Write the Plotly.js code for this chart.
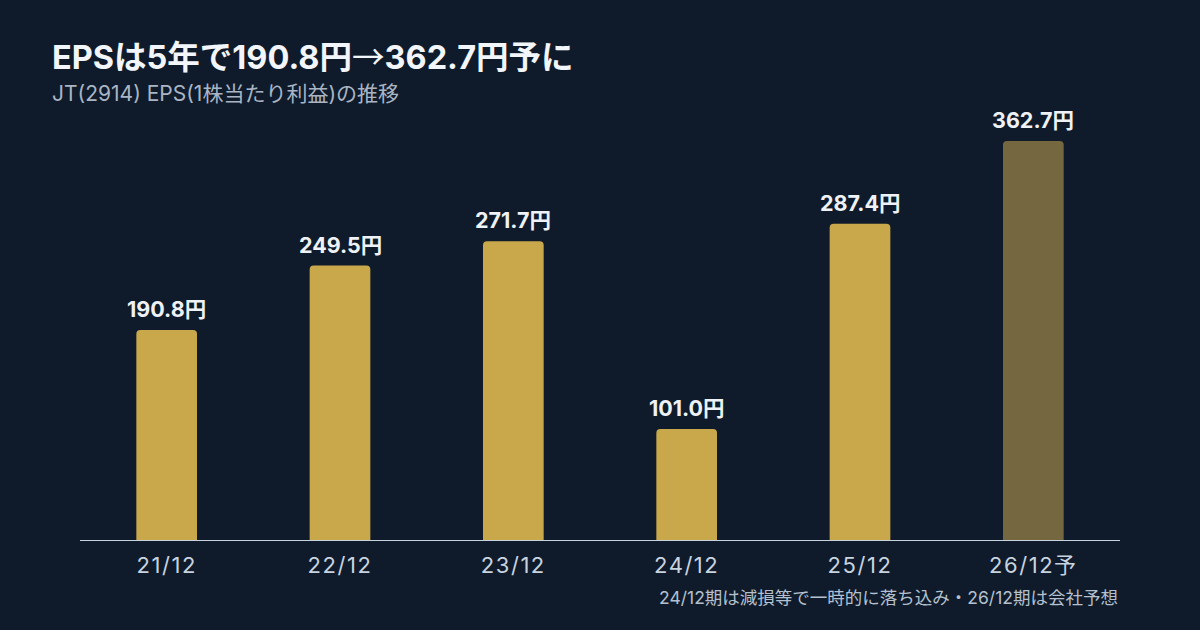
<!DOCTYPE html>
<html>
<head>
<meta charset="utf-8">
<script src="https://cdn.plot.ly/plotly-3.0.1.min.js"></script>
<style>
  html, body { margin: 0; padding: 0; background: #0f1b2a; }
  #chart { width: 1200px; height: 630px; }
  #chart .xtick text { letter-spacing: 0.07em; }
</style>
</head>
<body>
<div id="chart"></div>
<script>
const periods = ['21/12', '22/12', '23/12', '24/12', '25/12', '26/12予'];
const eps = [190.8, 249.5, 271.7, 101.0, 287.4, 362.7];
const isForecast = [false, false, false, false, false, true];

const FONT = 'Inter, "Noto Sans CJK JP", "Noto Sans", sans-serif';
const GOLD = '#c9a84c';
const GOLD_DIM = '#756840';

const trace = {
  type: 'bar',
  x: periods,
  y: eps,
  marker: { color: isForecast.map(f => f ? GOLD_DIM : GOLD), line: { width: 0 } },
  hoverinfo: 'skip',
};

// value labels sit a little higher than plotly's own outside text
const valueLabels = periods.map((p, i) => ({
  xref: 'x', yref: 'y',
  x: p, y: eps[i],
  yanchor: 'bottom',
  yshift: 6,
  showarrow: false,
  text: '<b>' + eps[i].toFixed(1) + '円</b>',
  font: { family: FONT, size: 21.5, color: '#eef2f7' },
}));

const layout = {
  width: 1200,
  height: 630,
  paper_bgcolor: '#0f1b2a',
  plot_bgcolor: '#0f1b2a',
  margin: { t: 100, r: 80, b: 90, l: 80 },
  bargap: 0.65,
  barcornerradius: 4,
  showlegend: false,
  font: { family: FONT },
  xaxis: {
    type: 'category',
    showline: true,
    linecolor: '#c8d3e0',
    linewidth: 1,
    ticks: '',
    showgrid: false,
    tickfont: { family: FONT, size: 22, color: '#c8d3e0' },
    ticklabelstandoff: 6,
  },
  yaxis: {
    range: [0, 400],
    visible: false,
    showgrid: false,
    zeroline: false,
  },
  annotations: [
    ...valueLabels,
    {
      xref: 'paper', yref: 'paper',
      x: 1, y: -57 / 440,
      xanchor: 'right', yanchor: 'middle',
      showarrow: false,
      text: '24/12期は減損等で一時的に落ち込み・26/12期は会社予想',
      font: { family: FONT, size: 17.5, color: '#b4c0cf' },
    },
    {
      xref: 'paper', yref: 'paper',
      x: -30 / 1040, y: 1.0 + 46 / 440,
      xanchor: 'left', yanchor: 'middle',
      showarrow: false,
      text: '<b>EPSは5年で190.8円<span style="font-family:\'Noto Sans CJK JP\';font-weight:normal">→</span>362.7円予に</b>',
      font: { family: FONT, size: 32.5, color: '#f2f5f9' },
    },
    {
      xref: 'paper', yref: 'paper',
      x: -30 / 1040, y: 1.0 + 7 / 440,
      xanchor: 'left', yanchor: 'middle',
      showarrow: false,
      text: 'JT(2914) EPS(1株当たり利益)の推移',
      font: { family: FONT, size: 21, color: '#a9b5c5' },
    },
  ],
};

Plotly.newPlot('chart', [trace], layout, { displayModeBar: false, staticPlot: true });
</script>
</body>
</html>
